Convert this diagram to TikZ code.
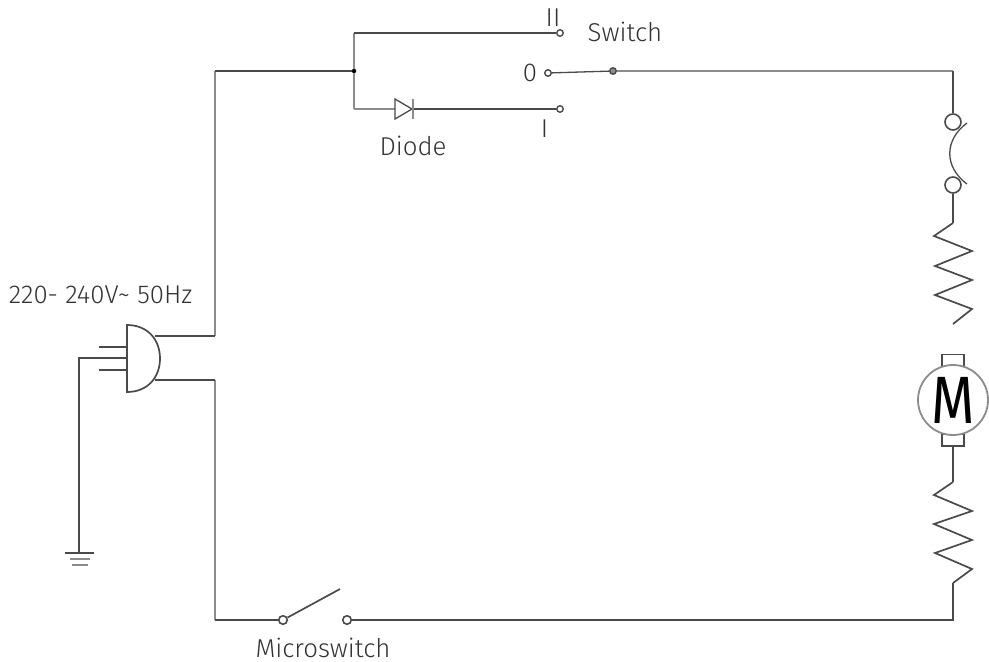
\documentclass[tikz,border=0pt]{standalone}
\usepackage{fontspec}
\setmainfont{Fira Sans Light}
\newfontfamily\motorfont{Fira Sans}
\usetikzlibrary{calc}
\definecolor{wire}{HTML}{4A4A4A}
\definecolor{wirelight}{HTML}{8C8C8C}
\definecolor{ink}{HTML}{333333}
\tikzset{
  wireline/.style={draw=wire,line width=1.7pt,line join=miter,line cap=butt},
  lightwire/.style={draw=wirelight,line width=2pt},
  thinline/.style={draw=wire,line width=1.3pt},
  term/.style={circle,draw=wire,line width=1.4pt,fill=white,minimum size=6.5pt,inner sep=0pt},
  bigterm/.style={circle,draw=wire,line width=1.6pt,fill=white,minimum size=8.5pt,inner sep=0pt},
  fuseend/.style={circle,draw=wire,line width=1.6pt,fill=white,minimum size=16pt,inner sep=0pt},
  dotnode/.style={circle,fill=black,minimum size=4.5pt,inner sep=0pt},
  lbl/.style={text=ink,font=\fontsize{25.8}{28}\selectfont,inner sep=0pt,anchor=center},
}
\begin{document}
\begin{tikzpicture}[x=1pt,y=-1pt]
\useasboundingbox (0,0) rectangle (989,662);
% points
\coordinate (corner) at (215,71);
\node[dotnode] (junction) at (354,71) {};
\coordinate (jtop) at (354,33);
\coordinate (jbot) at (354,109);
\coordinate (diodeL) at (395,109);
\coordinate (diodeR) at (413,109);
\coordinate (tr) at (953,71);
\coordinate (br) at (953,620);
\coordinate (bl) at (215,620);
\coordinate (plugA) at (155,336);
\coordinate (plugAc) at (215,336);
\coordinate (plugB) at (155,380);
\coordinate (plugBc) at (215,380);
\coordinate (gndTurn) at (79,358);
\coordinate (gnd) at (79,553);
\coordinate (bladeTip) at (340,589);
\coordinate (plugBody) at (127,358);
% wires
\draw[lightwire] (plugAc) -- (corner);
\draw[lightwire] (plugBc) -- (bl);
\draw[wireline] (plugA) -- (plugAc);
\draw[wireline] (plugB) -- (plugBc);
\draw[wireline] (corner) -- (junction);
\draw[wireline,draw=wirelight] (jbot) -- (junction) -- (jtop);
\node[term] (sII) at (560,33) {};
\node[term] (sI) at (560,109) {};
\node[term] (s0) at (548,73) {};
\node[term,fill=wirelight] (sC) at (613,71) {};
\draw[wireline] (jtop) -- (sII);
\draw[wireline,draw=wirelight] (jbot) -- (diodeL);
\draw[wireline] (diodeR) -- (sI);
\draw[thinline] (s0) -- (sC);
% diode
\draw[thinline,line join=miter] (395,99) -- (412,109) -- (395,119) -- cycle;
\draw[thinline,draw=wirelight] (413,99) -- (413,119);
% right branch
\node[fuseend] (f1) at (953,122) {};
\node[fuseend] (f2) at (953,185) {};
\draw[wireline,draw=wirelight] (sC) -- (tr);
\draw[wireline] (tr) -- (f1);
\draw[thinline] (967,123) .. controls (944,140) and (944,167) .. (967,184);
\coordinate (r1a) at (953,223);
\coordinate (r1b) at (953,324);
\draw[wireline] (f2) -- (r1a);
\draw[wireline,line join=miter] (r1a) -- (934,236) -- (972,251) -- (935,266) -- (972,280) -- (935,295) -- (972,309) -- (r1b);
% motor
\node[draw=wire,line width=1.4pt,minimum width=22pt,minimum height=12pt,inner sep=0pt] (brushT) at (953,360.5) {};
\node[draw=wire,line width=1.4pt,minimum width=22pt,minimum height=12pt,inner sep=0pt] (brushB) at (953,440) {};
\node[circle,draw=wirelight,line width=1.8pt,fill=white,minimum size=70pt,inner sep=0pt,text=black,font=\motorfont\fontsize{62}{62}\selectfont] (motor) at (953,400) {\scalebox{0.9}[1.08]{M}};
\coordinate (r2a) at (953,482);
\coordinate (r2b) at (953,583);
\draw[wireline] (brushB) -- (r2a);
\draw[wireline,line join=miter] (r2a) -- (934,495) -- (972,511) -- (934,524) -- (972,540) -- (935,553) -- (972,569) -- (r2b);
% microswitch
\node[bigterm] (m1) at (283,620) {};
\node[bigterm] (m2) at (347,620) {};
\draw[wireline] (r2b) -- (br) -- (m2);
\draw[wireline] (bl) -- (m1);
\draw[wireline] (m1) -- (bladeTip);
% plug
\draw[wireline,fill=white] (127,325) -- (127,392) .. controls (148,392) and (160,377) .. (160,358.5) .. controls (160,340) and (148,325) .. (127,325) -- cycle;
\draw[thinline] (99,347) -- (127,347);
\draw[thinline] (99,370) -- (127,370);
\draw[wireline] (gnd) -- (gndTurn) -- (plugBody);
% ground
\draw[wireline] (65,553) -- (94,553);
\draw[thinline,draw=wirelight] (70,559) -- (90,559);
\draw[thinline,draw=wirelight] (72,565) -- (88,565);
% labels
\node[lbl] (tII) at (553,18) {II};
\node[lbl] (tSwitch) at (625,32) {Switch};
\node[lbl] (t0) at (530,73) {0};
\node[lbl] (tI) at (544.5,129) {I};
\node[lbl] (tDiode) at (413,146) {Diode};
\node[lbl] (tMicro) at (323,648) {Microswitch};
\node[lbl] (tV) at (100.5,295) {220- 240V\char"7E\ 50Hz};
\end{tikzpicture}
\end{document}
